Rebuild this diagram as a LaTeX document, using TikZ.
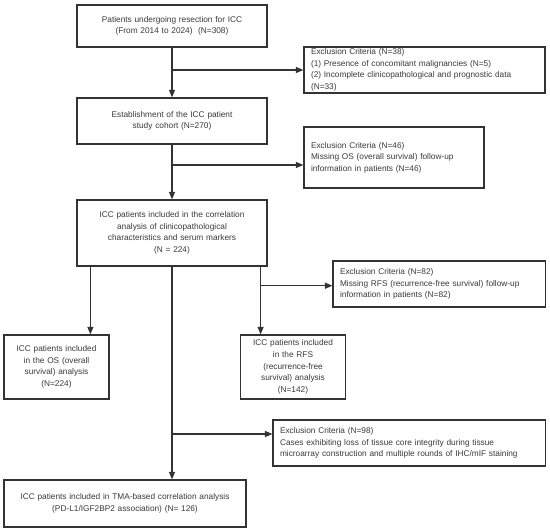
\documentclass[tikz,border=0pt]{standalone}
\usepackage{fontspec}
\setmainfont{Liberation Sans}
\usetikzlibrary{arrows.meta,calc}
\definecolor{lc}{HTML}{333333}
\definecolor{tc}{HTML}{3A3A3A}
\begin{document}
\begin{tikzpicture}[x=1pt,y=-1pt,
  every node/.style={font=\fontsize{8.3}{11.6}\selectfont, text=tc},
  cbox/.style={draw=lc, line width=1.2pt, rectangle, inner sep=0pt, align=center},
  lbox/.style={draw=lc, line width=1.2pt, rectangle, inner xsep=7pt, inner ysep=0pt, align=left},
  conn/.style={draw=lc, line width=1.2pt},
  arr/.style={conn, -{Triangle[length=7.5pt,width=6pt]}}]
\useasboundingbox (0,0) rectangle (550,531);
\fill[white] (0,0) rectangle (550,531);

\node[cbox, text width=190pt, minimum height=42pt] (b1) at (172,26)
  {Patients undergoing resection for ICC\\(From 2014 to 2024)\ \ (N=308)};
\node[cbox, text width=190pt, minimum height=46pt] (b2) at (172,121)
  {Establishment of the ICC patient\\study cohort (N=270)};
\node[cbox, text width=190pt, minimum height=66pt] (b3) at (172,233)
  {ICC patients included in the correlation\\analysis of clinicopathological\\characteristics and serum markers\\(N = 224)};
\node[cbox, text width=105pt, minimum height=64pt] (os) at (56.5,367)
  {ICC patients included\\in the OS (overall\\survival) analysis\\(N=224)};
\node[cbox, text width=104.5pt, minimum height=64pt] (rfs) at (293,367)
  {ICC patients included\\in the RFS\\(recurrence-free\\survival) analysis\\(N=142)};
\node[cbox, text width=242pt, minimum height=47pt] (tma) at (125,503.5)
  {ICC patients included in TMA-based correlation analysis\\(PD-L1/IGF2BP2 association) (N= 126)};

\node[lbox, text width=227pt, minimum height=46pt] (e1) at (424.5,70)
  {Exclusion Criteria (N=38)\\(1) Presence of concomitant malignancies (N=5)\\(2) Incomplete clinicopathological and prognostic data\\(N=33)};
\node[lbox, text width=166pt, minimum height=61pt] (e2) at (394,157.5)
  {Exclusion Criteria (N=46)\\Missing OS (overall survival) follow-up\\information in patients (N=46)};
\node[lbox, text width=198.5pt, minimum height=46pt] (e3) at (439.3,284)
  {Exclusion Criteria (N=82)\\Missing RFS (recurrence-free survival) follow-up\\information in patients (N=82)};
\node[lbox, text width=258.5pt, minimum height=46pt] (e4) at (409.3,443)
  {Exclusion Criteria (N=98)\\Cases exhibiting loss of tissue core integrity during tissue\\microarray construction and multiple rounds of IHC/mIF staining};

% main trunk
\draw[arr] (b1.south) -- (b2.north);
\coordinate (j1) at (172,70);
\draw[arr] (j1) -- (j1 -| e1.west);
\draw[arr] (b2.south) -- (b3.north);
\coordinate (j2) at (172,165);
\draw[arr] (j2) -- (j2 -| e2.west);

% branches from box 3
\coordinate (s1) at ([xshift=14pt]b3.south west);
\coordinate (s3) at ([xshift=-7pt]b3.south east);
\draw[arr] (s1) -- (s1 |- os.north);
\draw[arr] (s3) -- (s3 |- rfs.north);
\coordinate (j3) at (s3 |- 0,285.7);
\draw[arr] (j3) -- (j3 -| e3.west);
\draw[arr] (b3.south) -- (b3.south |- tma.north);
\coordinate (j4) at (172,434);
\draw[arr] (j4) -- (j4 -| e4.west);
\end{tikzpicture}
\end{document}
